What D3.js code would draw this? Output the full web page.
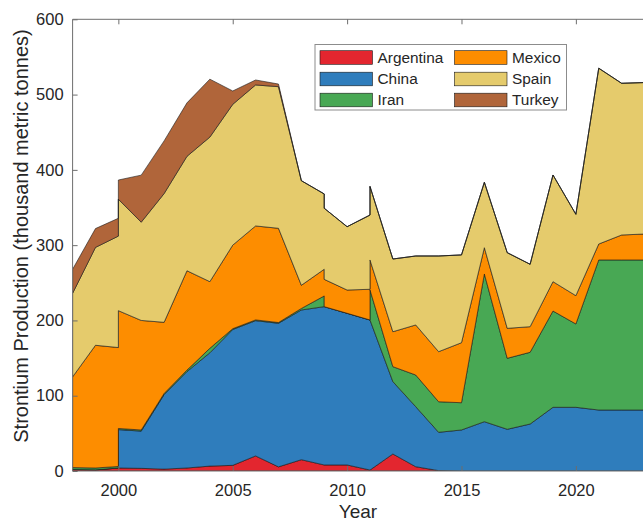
<!DOCTYPE html>
<html>
<head>
<meta charset="utf-8">
<script src="https://cdn.jsdelivr.net/npm/d3@7"></script>
<style>
  html, body { margin: 0; padding: 0; background: #fff; }
  svg { display: block; }
  text { font-family: "Liberation Sans", Arial, Helvetica, sans-serif; fill: #262626; }
</style>
</head>
<body>
<svg id="chart" width="643" height="521"></svg>
<script>
// ---- data (duplicate years come from overlapping source reports) ----
const years = [1998, 1999, 2000, 2000, 2001, 2002, 2003, 2004, 2005, 2006, 2007, 2008, 2009, 2009, 2010, 2011, 2011, 2012, 2013, 2014, 2015, 2016, 2017, 2018, 2019, 2020, 2021, 2022, 2023];
const argentina = [2, 1.5, 4, 4, 3.5, 2.5, 4, 6.5, 7.5, 20, 5.5, 15, 8, 8, 8, 1.3, 1.3, 22.6, 5.7, 0.5, 0, 0, 0, 0, 0, 0, 0, 0, 0];
const china = [0, 0, 0, 51, 49.5, 99, 128, 150.5, 180.5, 179.7, 190.7, 198.9, 210.3, 210.3, 201.5, 199.3, 199.3, 96.1, 79.7, 50.9, 54.5, 65.5, 55.4, 62.4, 84.6, 84.6, 81, 81, 81];
const iran = [2.5, 2.5, 2, 1.5, 1.5, 1.5, 2, 6, 1, 1, 1, 2, 14.2, 0, 0, 0, 40, 19.9, 42.1, 40.6, 36.2, 196.2, 94.3, 95.3, 127.9, 110.7, 199.3, 199.3, 199.3];
const mexico = [120.5, 163, 158, 156.5, 145.5, 94.5, 132, 88.5, 111, 124.8, 125.2, 30.8, 35.5, 36.3, 30.9, 40.8, 39.7, 46.4, 66.5, 66.5, 79.7, 34.9, 39.8, 34, 39, 37.6, 21.2, 33.2, 34.5];
const spain = [111, 130, 148, 148, 130.5, 171, 152, 192, 187, 187.3, 188.1, 138.9, 100, 94.4, 84.1, 98.6, 97.7, 96.6, 91.6, 127.1, 116.6, 86.9, 100.5, 82.9, 141.7, 108.1, 233.5, 201.5, 201.2];
const turkey = [32, 25, 23.7, 25.5, 62.5, 70, 71, 77, 17.8, 6.6, 3.5, 0, 0, 0, 0, 0, 0, 0, 0, 0, 0, 0, 0, 0, 0, 0, 0, 0, 0];

const countries = ["Argentina", "China", "Iran", "Mexico", "Spain", "Turkey"];
const colors = ["#e3262f", "#2f7dbc", "#48a854", "#fd8d00", "#e5cb6c", "#b0653a"];
const xTicks = [2000, 2005, 2010, 2015, 2020];
const yTicks = [0, 100, 200, 300, 400, 500, 600];

const seriesArrays = [argentina, china, iran, mexico, spain, turkey];
const table = years.map((yr, i) => {
  const row = { year: yr };
  countries.forEach((c, k) => row[c] = seriesArrays[k][i]);
  return row;
});

const svg = d3.select("#chart");
const pL = 72.6, pR = 644.5, pT = 19.3, pB = 471;
const x = d3.scaleLinear().domain([1998, 2023]).range([pL, pR]);
const y = d3.scaleLinear().domain([0, 600]).range([pB, pT]);

svg.append("defs").append("clipPath").attr("id", "plotclip")
  .append("rect").attr("x", pL).attr("y", pT).attr("width", pR - pL).attr("height", pB - pT);

const layers = d3.stack().keys(countries)(table);
const area = d3.area()
  .x(d => x(d.data.year))
  .y0(d => y(d[0]))
  .y1(d => y(d[1]));

svg.append("g").attr("clip-path", "url(#plotclip)")
  .selectAll("path").data(layers).join("path")
  .attr("d", area)
  .attr("fill", (d, i) => colors[i])
  .attr("stroke", "#1a1a1a")
  .attr("stroke-width", 0.6)
  .attr("stroke-linejoin", "round");

// axes box lines
const axColor = "#6e6e6e";
svg.append("line").attr("x1", pL).attr("x2", pL).attr("y1", pT).attr("y2", pB)
  .attr("stroke", axColor).attr("stroke-width", 1);
svg.append("line").attr("x1", pL).attr("x2", pR).attr("y1", pT).attr("y2", pT)
  .attr("stroke", axColor).attr("stroke-width", 1);
svg.append("line").attr("x1", pL).attr("x2", pR).attr("y1", pB).attr("y2", pB)
  .attr("stroke", axColor).attr("stroke-width", 1);

// x axis (bottom labels)
const gx = svg.append("g").attr("transform", `translate(0,${pB})`)
  .call(d3.axisBottom(x).tickValues(xTicks).tickFormat(d3.format("d")).tickSizeInner(-5).tickSizeOuter(0).tickPadding(13));
gx.select(".domain").remove();
gx.selectAll("line").attr("stroke", axColor);
gx.selectAll("text").attr("font-size", "16.5px").attr("fill", "#262626")
  .attr("font-family", '"Liberation Sans", Arial, sans-serif');

// top ticks
const gxt = svg.append("g").attr("transform", `translate(0,${pT})`)
  .call(d3.axisTop(x).tickValues(xTicks).tickSizeInner(-5).tickSizeOuter(0).tickFormat(""));
gxt.select(".domain").remove();
gxt.selectAll("line").attr("stroke", axColor);

// y axis
const gy = svg.append("g").attr("transform", `translate(${pL},0)`)
  .call(d3.axisLeft(y).tickValues(yTicks).tickFormat(d3.format("d")).tickSizeInner(-5).tickSizeOuter(0).tickPadding(9));
gy.select(".domain").remove();
gy.selectAll("line").attr("stroke", axColor);
gy.selectAll("text").attr("font-size", "16.5px").attr("fill", "#262626")
  .attr("font-family", '"Liberation Sans", Arial, sans-serif');

// axis titles
svg.append("text").attr("x", 358).attr("y", 518)
  .attr("text-anchor", "middle").attr("font-size", "19px").text("Year");

svg.append("text")
  .attr("transform", `translate(28,236) rotate(-90)`)
  .attr("text-anchor", "middle").attr("font-size", "20px")
  .text("Strontium Production (thousand metric tonnes)");

// legend
const lg = svg.append("g");
lg.append("rect").attr("x", 315).attr("y", 44.5).attr("width", 251.5).attr("height", 65.5)
  .attr("fill", "#fff").attr("stroke", "#8c8c8c").attr("stroke-width", 1);
const colX = [320, 454.5];
const rowY = [57.5, 79, 100];
countries.forEach((c, i) => {
  const col = Math.floor(i / 3), row = i % 3;
  lg.append("rect").attr("x", colX[col]).attr("y", rowY[row] - 6.8).attr("width", 52.5).attr("height", 13.6)
    .attr("fill", colors[i]).attr("stroke", "#1a1a1a").attr("stroke-width", 0.6);
  lg.append("text").attr("x", colX[col] + 57.5).attr("y", rowY[row] + 5.4)
    .attr("font-size", "15.4px").text(c);
});
</script>
</body>
</html>
